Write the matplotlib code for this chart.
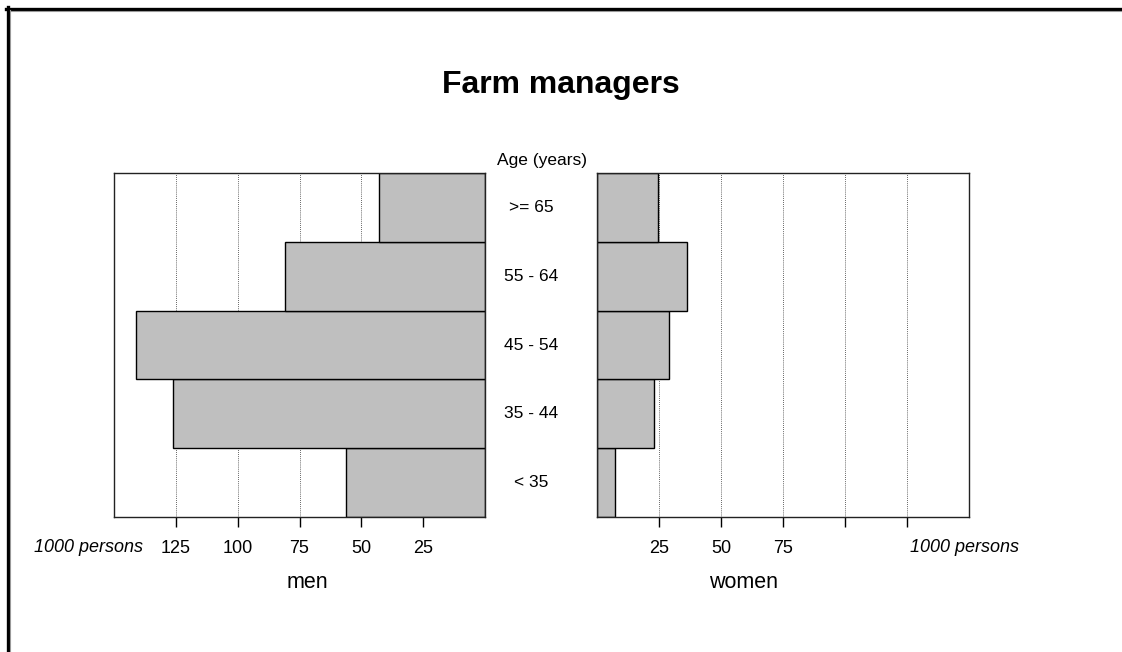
import matplotlib
matplotlib.use("Agg")
import matplotlib.pyplot as plt
from matplotlib.lines import Line2D

plt.rcParams['font.family'] = ['Liberation Sans', 'DejaVu Sans']

age_groups = ["< 35", "35 - 44", "45 - 54", "55 - 64", ">= 65"]
men = [56, 126, 141, 81, 43]
women = [7, 23, 29, 36, 24.5]
ticks = [25, 50, 75, 100, 125]
left_labels = ["25", "50", "75", "100", "125"]
right_labels = ["25", "50", "75", "", ""]

W, H = 1122, 652
fig = plt.figure(figsize=(W / 100, H / 100), dpi=100)

def fx(px):
    return px / W

def fy(py):
    return 1 - py / H

axL = fig.add_axes([fx(114), fy(517), fx(485) - fx(114), fy(173) - fy(517)])
axR = fig.add_axes([fx(597.4), fy(517), fx(969) - fx(597.4), fy(173) - fy(517)])

ypos = list(range(len(age_groups)))
for ax, vals, labels in [(axL, men, left_labels), (axR, women, right_labels)]:
    for t in ticks:
        ax.axvline(t, color='#333333', linestyle=(0, (1, 1.5)), linewidth=0.6, zorder=1)
    ax.barh(ypos, vals, height=1.0, align='edge', color='#bfbfbf',
            edgecolor='black', linewidth=1.0, zorder=2)
    ax.set_ylim(0, 5)
    ax.set_yticks([])
    ax.set_xticks(ticks)
    ax.set_xticklabels(labels)
    ax.tick_params(axis='x', length=7.5, width=1.0, pad=9, labelsize=13, direction='out')
    for s in ax.spines.values():
        s.set_linewidth(1.0)
        s.set_color('#222222')

axL.set_xlim(150, 0)
axR.set_xlim(0, 150)

# Age labels
for i, lab in enumerate(age_groups):
    fig.text(fx(531), fy(517 - (i + 0.5) * 68.8), lab, ha='center', va='center', fontsize=12.5)
fig.text(fx(542), fy(160), "Age (years)", ha='center', va='center', fontsize=12.5)

fig.text(fx(89), fy(547), "1000 persons", ha='center', va='center', fontsize=13, style='italic')
fig.text(fx(965), fy(547), "1000 persons", ha='center', va='center', fontsize=13, style='italic')

fig.text(fx(307), fy(583), "men", ha='center', va='center', fontsize=15.5)
fig.text(fx(744), fy(583), "women", ha='center', va='center', fontsize=15.5)

fig.text(fx(561), fy(85), "Farm managers", ha='center', va='center', fontsize=23, fontweight='bold')

# Figure border (top and left)
fig.add_artist(Line2D([fx(6), 1], [fy(8.5), fy(8.5)], color='black', linewidth=2.4, transform=fig.transFigure))
fig.add_artist(Line2D([fx(9), 1], [fy(10.5), fy(10.5)], color='#999999', linewidth=0.8, transform=fig.transFigure))
fig.add_artist(Line2D([fx(7.5), fx(7.5)], [fy(7), 0], color='black', linewidth=2.4, transform=fig.transFigure))
fig.add_artist(Line2D([fx(9.5), fx(9.5)], [fy(10), 0], color='#999999', linewidth=0.8, transform=fig.transFigure))

fig.savefig("out.png", dpi=100)
